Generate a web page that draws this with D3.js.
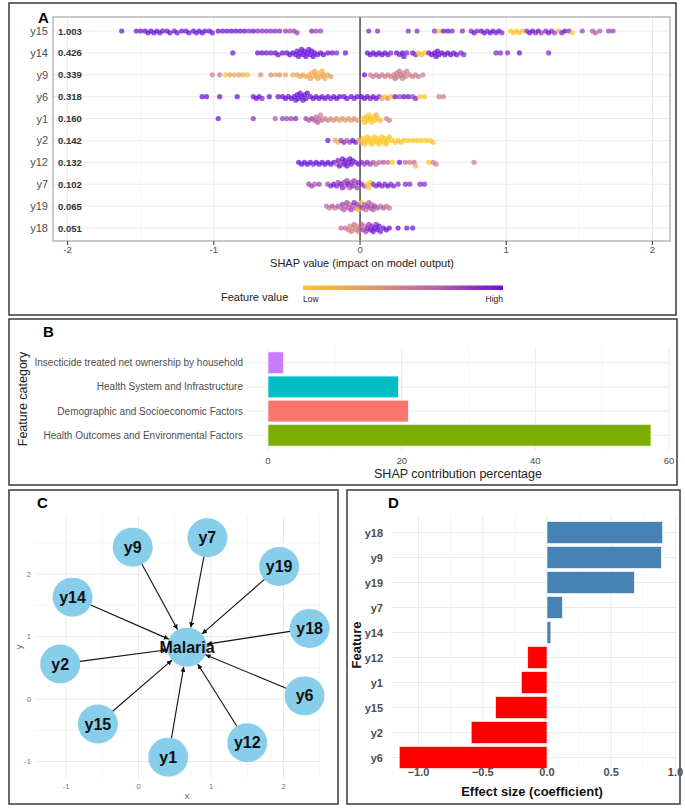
<!DOCTYPE html>
<html>
<head>
<meta charset="utf-8">
<title>SHAP figure</title>
<script src="https://d3js.org/d3.v7.min.js"></script>
<style>
  body { margin: 0; background: #fff; }
  text { font-family: "Liberation Sans", Arial, sans-serif; }
</style>
</head>
<body>
<script>
// ---------- data ----------
// panel A: features, mean |SHAP|, points as [shap, feature value 0..1 (low..high)]
var featA = ["y15", "y14", "y9", "y6", "y1", "y2", "y12", "y7", "y19", "y18"];
var importanceA = ["1.003", "0.426", "0.339", "0.318", "0.160", "0.142", "0.132", "0.102", "0.065", "0.051"];

var ptsY15 = [[-1.63,1],[-1.53,1],[-1.50,1],[-1.47,1],[-1.45,1],[-1.43,1],[-1.41,1],[-1.39,1],[-1.37,1],[-1.35,1],[-1.32,1],[-1.30,1],[-1.27,1],[-1.25,1],[-1.22,1],[-1.19,1],[-1.17,1],[-1.14,1],[-1.12,1],[-1.10,1],[-1.08,1],[-1.06,1],[-1.03,1],[-1.01,1],[-0.97,1],[-0.94,1],[-0.91,1],[-0.88,1],[-0.85,1],[-0.82,1],[-0.79,1],[-0.76,.9],[-0.73,1],[-0.70,.9],[-0.67,.9],[-0.64,.9],[-0.61,.9],[-0.58,.9],[-0.55,.9],[-0.51,.8],[-0.48,.8],[-0.45,.8],[-0.43,.8],[-0.33,.9],[-0.30,.8],[-0.27,.8],
  [0.06,.9],[0.12,.9],[0.33,.9],[0.39,.9],[0.51,.9],[0.54,0],[0.57,1],[0.60,1],[0.63,.9],[0.70,.9],[0.76,.9],[0.78,1],[0.80,.9],[0.83,1],[0.85,1],[0.87,.9],[0.89,1],[0.91,1],[0.93,.9],[0.95,1],[0.97,.9],[1.03,0],[1.05,0],[1.07,0],[1.09,.1],[1.11,0],[1.14,.9],[1.16,1],[1.18,1],[1.20,.9],[1.22,1],[1.24,.8],[1.27,.9],[1.29,1],[1.31,.9],[1.33,.8],[1.36,.2],[1.38,.9],[1.40,1],[1.43,.9],[1.45,0],[1.52,.8],[1.59,.7],[1.61,.7],[1.64,.7],[1.70,.8],[1.73,.8]];
var ptsY14 = [[-0.87,1],[-0.70,1],[-0.67,1],[-0.64,1],[-0.61,1],[-0.58,1],[-0.56,1],[-0.53,1],[-0.50,1],[-0.48,1],[-0.46,1],[-0.44,1],[-0.43,1],[-0.42,1],[-0.41,1],[-0.40,1],[-0.39,1],[-0.38,1],[-0.37,1],[-0.36,1],[-0.35,1],[-0.34,1],[-0.33,1],[-0.32,1],[-0.31,1],[-0.29,1],[-0.27,1],[-0.25,1],[-0.22,1],[-0.19,1],[-0.16,.9],[-0.10,1],
  [0.05,1],[0.07,1],[0.09,1],[0.11,1],[0.13,1],[0.15,1],[0.17,1],[0.19,1],[0.21,.9],[0.25,1],[0.27,.9],[0.29,1],[0.30,1],[0.32,.9],[0.36,1],[0.38,.9],[0.40,0],[0.42,.1],[0.44,0],[0.47,1],[0.49,1],[0.51,1],[0.52,1],[0.53,1],[0.54,1],[0.56,1],[0.58,1],[0.60,1],[0.62,1],[0.64,.9],[0.66,1],[0.69,.9],[0.71,.9],[0.93,.9],[0.96,.9],[1.01,.9],[1.09,1],[1.29,.9]];
var ptsY9 = [[-1.01,.5],[-0.96,.5],[-0.92,0],[-0.89,.3],[-0.86,.2],[-0.83,.3],[-0.80,.2],[-0.77,.1],[-0.68,.4],[-0.61,.4],[-0.58,.3],[-0.55,.4],[-0.51,.3],[-0.46,.2],[-0.43,.3],[-0.41,.2],[-0.39,.3],[-0.37,.2],[-0.35,.2],[-0.34,.3],[-0.33,.2],[-0.32,.1],[-0.31,.2],[-0.30,.3],[-0.29,.2],[-0.28,0],[-0.27,.2],[-0.26,.1],[-0.25,.3],[-0.24,.2],[-0.22,.2],[-0.20,.3],
  [0.03,1],[0.07,.5],[0.09,.5],[0.11,.5],[0.13,.6],[0.15,.5],[0.17,.5],[0.19,.5],[0.21,.5],[0.23,.5],[0.24,.6],[0.25,.5],[0.26,.5],[0.27,.5],[0.28,.6],[0.29,.5],[0.30,.5],[0.31,.5],[0.32,.5],[0.34,.5],[0.36,.5],[0.38,.5],[0.40,.5],[0.43,.5]];
var ptsY6 = [[-1.08,1],[-1.05,1],[-0.96,1],[-0.84,1],[-0.73,1],[-0.71,1],[-0.69,1],[-0.67,.9],[-0.62,1],[-0.56,1],[-0.53,1],[-0.51,1],[-0.49,1],[-0.47,1],[-0.45,1],[-0.44,1],[-0.43,1],[-0.42,1],[-0.41,1],[-0.40,1],[-0.39,1],[-0.38,1],[-0.37,1],[-0.36,1],[-0.34,1],[-0.32,1],[-0.30,1],[-0.28,1],[-0.26,1],[-0.24,1],[-0.22,1],[-0.20,.9],[-0.18,1],[-0.16,1],[-0.14,1],[-0.11,1],[-0.09,1],[-0.06,1],[-0.04,.9],[-0.02,1],
  [0.01,1],[0.03,1],[0.05,1],[0.07,.9],[0.09,1],[0.11,1],[0.13,.9],[0.15,.3],[0.17,0],[0.19,.4],[0.21,.1],[0.24,1],[0.27,.8],[0.30,1],[0.33,1],[0.36,.8],[0.38,.9],[0.41,0],[0.44,0],[0.54,.5],[0.57,.5]];
var ptsY1 = [[-0.97,1],[-0.73,.9],[-0.58,.7],[-0.53,.8],[-0.50,.8],[-0.47,.8],[-0.44,.9],[-0.37,.8],[-0.35,.7],[-0.33,.8],[-0.31,.7],[-0.30,.6],[-0.29,.7],[-0.28,.6],[-0.27,.5],[-0.26,.6],[-0.24,.5],[-0.22,.5],[-0.20,.4],[-0.18,.4],[-0.16,.4],[-0.14,.3],[-0.12,.4],[-0.10,.3],[-0.08,.3],[-0.06,.3],[-0.04,.4],[-0.02,.3],
  [0.02,0],[0.03,.1],[0.04,0],[0.05,0],[0.06,0],[0.07,.1],[0.08,0],[0.09,0],[0.10,0],[0.11,.2],[0.12,0],[0.14,.1],[0.18,.4],[0.20,.5]];
var ptsY2 = [[-0.22,1],[-0.17,.3],[-0.15,.1],[-0.13,.8],[-0.11,.9],[-0.09,.7],[-0.07,.8],[-0.05,1],[-0.03,1],[-0.01,.3],
  [0.01,.2],[0.02,0],[0.03,.1],[0.04,0],[0.05,0],[0.06,0],[0.07,0],[0.08,0],[0.09,0],[0.10,0],[0.11,0],[0.12,0],[0.13,0],[0.14,0],[0.15,0],[0.16,0],[0.17,0],[0.18,0],[0.19,0],[0.20,0],[0.22,0],[0.24,0],[0.26,0],[0.28,0],[0.30,0],[0.33,0],[0.36,0],[0.39,0],[0.42,0],[0.45,0],[0.48,0],[0.50,0]];
var ptsY12 = [[-0.42,1],[-0.40,1],[-0.38,1],[-0.36,1],[-0.34,1],[-0.32,.9],[-0.30,1],[-0.28,1],[-0.26,1],[-0.24,1],[-0.22,1],[-0.20,1],[-0.18,1],[-0.16,.6],[-0.15,1],[-0.14,1],[-0.13,.7],[-0.12,1],[-0.11,1],[-0.10,1],[-0.09,1],[-0.08,.9],[-0.07,1],[-0.06,1],[-0.05,1],[-0.03,.9],[-0.01,1],
  [0.01,.9],[0.03,.8],[0.05,.9],[0.07,.8],[0.09,.7],[0.11,.6],[0.13,.6],[0.16,.7],[0.19,.6],[0.22,0],[0.27,1],[0.31,.6],[0.34,.5],[0.37,.6],[0.38,.1],[0.47,0],[0.50,.5],[0.52,.5],[0.78,.5]];
var ptsY7 = [[-0.35,.8],[-0.33,.8],[-0.31,.7],[-0.28,.8],[-0.22,.8],[-0.20,.9],[-0.18,1],[-0.16,.9],[-0.15,.8],[-0.13,1],[-0.12,.9],[-0.11,.8],[-0.10,.7],[-0.09,.8],[-0.08,1],[-0.07,.7],[-0.06,.8],[-0.05,.9],[-0.04,.8],[-0.03,.7],[-0.02,.8],[-0.01,.9],
  [0.01,.9],[0.03,.8],[0.05,0],[0.06,.1],[0.07,0],[0.09,.9],[0.11,.9],[0.13,1],[0.15,.9],[0.17,.9],[0.19,1],[0.21,.9],[0.23,.9],[0.26,.9],[0.31,.9],[0.34,.9],[0.41,.9],[0.44,.9]];
var ptsY19 = [[-0.23,.6],[-0.21,.6],[-0.19,.7],[-0.17,.6],[-0.15,.7],[-0.13,.6],[-0.12,.8],[-0.11,.7],[-0.10,.6],[-0.09,.8],[-0.08,.7],[-0.07,.6],[-0.06,.8],[-0.05,.7],[-0.04,.9],[-0.03,.6],[-0.02,.8],[-0.01,.1],
  [0.00,.7],[0.01,0],[0.02,.8],[0.03,.7],[0.04,.6],[0.05,.8],[0.06,.7],[0.07,.8],[0.08,.6],[0.09,.7],[0.10,.8],[0.12,.7],[0.14,.6],[0.16,.7],[0.18,.6],[0.20,.6]];
var ptsY18 = [[-0.13,.6],[-0.10,.6],[-0.08,.5],[-0.07,.4],[-0.06,.5],[-0.05,.4],[-0.04,.6],[-0.03,.5],[-0.02,.4],[-0.01,.5],
  [0.00,.6],[0.01,.7],[0.02,.8],[0.03,.5],[0.04,.8],[0.05,.9],[0.06,.8],[0.07,1],[0.08,.9],[0.09,1],[0.10,1],[0.11,.9],[0.12,1],[0.13,1],[0.14,.9],[0.16,1],[0.18,1],[0.20,1],[0.26,1],[0.32,1],[0.36,1]];
var pointsA = [ptsY15, ptsY14, ptsY9, ptsY6, ptsY1, ptsY2, ptsY12, ptsY7, ptsY19, ptsY18];
var ticksA = [-2, -1, 0, 1, 2];

// panel B
var catB = ["Insecticide treated net ownership by household", "Health System and Infrastructure",
            "Demographic and Socioeconomic Factors", "Health Outcomes and Environmental Factors"];
var valB = [2.3, 19.5, 21.0, 57.3];
var colB = ["#C77CFF", "#00BFC4", "#F8766D", "#7CAE00"];
var ticksB = [0, 20, 40, 60];

// panel C: node positions in layout units
var nodeC = ["y9", "y7", "y19", "y14", "y18", "y2", "y6", "y15", "y1", "y12"];
var nodeX = [-0.08, 0.95, 1.94, -0.91, 2.36, -1.08, 2.29, -0.56, 0.41, 1.50];
var nodeY = [2.43, 2.58, 2.12, 1.63, 1.13, 0.56, 0.05, -0.40, -0.93, -0.70];
var targetC = {name: "Malaria", x: 0.67, y: 0.83};
var ticksCx = [-1, 0, 1, 2];
var ticksCy = [-1, 0, 1, 2];

// panel D
var featD = ["y18", "y9", "y19", "y7", "y14", "y12", "y1", "y15", "y2", "y6"];
var coefD = [0.90, 0.89, 0.68, 0.12, 0.03, -0.15, -0.20, -0.40, -0.59, -1.15];
var ticksD = [-1.0, -0.5, 0.0, 0.5, 1.0];

// ---------- drawing ----------
var svg = d3.select("body").append("svg").attr("width", 685).attr("height", 810);
var gridCol = "#ebebeb", axisCol = "#4d4d4d";

// panel frames
var frames = [[9, 3, 667, 312], [9, 319, 668, 166], [9, 490, 329, 314], [347, 490, 333, 314]];
svg.selectAll("rect.frame").data(frames).enter().append("rect")
  .attr("class", "frame")
  .attr("x", function(d){ return d[0]; }).attr("y", function(d){ return d[1]; })
  .attr("width", function(d){ return d[2]; }).attr("height", function(d){ return d[3]; })
  .attr("fill", "none").attr("stroke", "#3a3a3a").attr("stroke-width", 1.5);

function panelLetter(t, x, y) {
  svg.append("text").attr("x", x).attr("y", y).text(t)
    .attr("font-size", 15).attr("font-weight", "bold").attr("fill", "#000");
}

// ===== Panel A =====
var gA = svg.append("g");
var xA = d3.scaleLinear().domain([-2.1, 2.12]).range([53, 670]);
var yA = d3.scalePoint().domain(featA).range([31, 228]);
var colorA = d3.scaleLinear().domain([0, 0.33, 0.66, 1])
  .range(["#FFC61E", "#E39A6C", "#BC62A5", "#6A0FD8"]);

// grid
gA.selectAll("line.minor").data([-1.5, -0.5, 0.5, 1.5]).enter().append("line")
  .attr("x1", xA).attr("x2", xA).attr("y1", 17).attr("y2", 241)
  .attr("stroke", "#f3f3f3").attr("stroke-width", 0.8);
gA.selectAll("line.major").data(ticksA).enter().append("line")
  .attr("x1", xA).attr("x2", xA).attr("y1", 17).attr("y2", 241)
  .attr("stroke", gridCol).attr("stroke-width", 1);
gA.selectAll("line.row").data(featA).enter().append("line")
  .attr("x1", 53).attr("x2", 670).attr("y1", yA).attr("y2", yA)
  .attr("stroke", gridCol).attr("stroke-width", 1);
gA.append("line").attr("x1", xA(0)).attr("x2", xA(0)).attr("y1", 17).attr("y2", 241)
  .attr("stroke", "#222").attr("stroke-width", 1.2);

// simple beeswarm offsets
function swarm(pts, cy) {
  var placed = [];
  var out = pts.map(function(p){ return {x: xA(p[0]), v: p[1]}; })
    .sort(function(a, b){ return a.x - b.x; });
  var dmin = 3.2, step = 0.9, maxOff = 7;
  out.forEach(function(p) {
    var cands = [0];
    for (var k = 1; k * step <= maxOff; k++) { cands.push(k * step, -k * step); }
    var best = 0, bestD = -1;
    for (var i = 0; i < cands.length; i++) {
      var md = Infinity;
      placed.forEach(function(q) {
        if (Math.abs(q.x - p.x) < dmin) {
          var dd = Math.hypot(q.x - p.x, q.off - cands[i]);
          if (dd < md) md = dd;
        }
      });
      if (md >= dmin) { best = cands[i]; bestD = md; break; }
      if (md > bestD) { bestD = md; best = cands[i]; }
    }
    p.off = best;
    placed.push(p);
  });
  out.forEach(function(p){ p.y = cy + p.off; });
  return out;
}

featA.forEach(function(f, i) {
  var sw = swarm(pointsA[i], yA(f));
  gA.append("g").selectAll("circle").data(sw).enter().append("circle")
    .attr("cx", function(d){ return d.x; }).attr("cy", function(d){ return d.y; })
    .attr("r", 2.6).attr("fill", function(d){ return colorA(d.v); })
    .attr("fill-opacity", 0.72);
});

gA.append("rect").attr("x", 53).attr("y", 17).attr("width", 617).attr("height", 224)
  .attr("fill", "none").attr("stroke", "#a6a6a6").attr("stroke-width", 1.2);

// axes text
gA.selectAll("text.rowlab").data(featA).enter().append("text")
  .attr("x", 48).attr("y", function(d){ return yA(d) + 4; }).attr("text-anchor", "end")
  .attr("font-size", 11).attr("fill", axisCol).text(function(d){ return d; });
gA.selectAll("text.imp").data(importanceA).enter().append("text")
  .attr("x", 58).attr("y", function(d, i){ return yA(featA[i]) + 3.5; })
  .attr("font-size", 9.5).attr("font-weight", "bold").attr("fill", "#333").text(function(d){ return d; });
gA.selectAll("line.tick").data(ticksA).enter().append("line")
  .attr("x1", xA).attr("x2", xA).attr("y1", 241).attr("y2", 245)
  .attr("stroke", "#333").attr("stroke-width", 1);
gA.selectAll("text.tick").data(ticksA).enter().append("text")
  .attr("x", xA).attr("y", 253).attr("text-anchor", "middle")
  .attr("font-size", 9.5).attr("fill", axisCol).text(function(d){ return d; });
gA.append("text").attr("x", 362).attr("y", 267).attr("text-anchor", "middle")
  .attr("font-size", 11).attr("fill", "#222").text("SHAP value (impact on model output)");

// legend
var defs = svg.append("defs");
var grad = defs.append("linearGradient").attr("id", "fvgrad");
[0, 0.33, 0.66, 1].forEach(function(s){
  grad.append("stop").attr("offset", s).attr("stop-color", colorA(s));
});
gA.append("rect").attr("x", 303).attr("y", 285.5).attr("width", 200).attr("height", 4.5)
  .attr("fill", "url(#fvgrad)");
gA.append("text").attr("x", 221).attr("y", 301).attr("font-size", 11).attr("fill", "#222").text("Feature value");
gA.append("text").attr("x", 303).attr("y", 302).attr("font-size", 8.5).attr("fill", "#222").text("Low");
gA.append("text").attr("x", 503).attr("y", 302).attr("text-anchor", "end").attr("font-size", 8.5).attr("fill", "#222").text("High");
panelLetter("A", 38, 22.5);

// ===== Panel B =====
var gB = svg.append("g");
var xB = d3.scaleLinear().domain([0, 60]).range([268, 669]);
var yB = d3.scaleBand().domain(catB).range([349.5, 448.5]).padding(0.1);
gB.selectAll("line.minor").data([10, 30, 50]).enter().append("line")
  .attr("x1", xB).attr("x2", xB).attr("y1", 347).attr("y2", 450)
  .attr("stroke", "#f3f3f3").attr("stroke-width", 0.8);
gB.selectAll("line.major").data(ticksB).enter().append("line")
  .attr("x1", xB).attr("x2", xB).attr("y1", 347).attr("y2", 450)
  .attr("stroke", gridCol).attr("stroke-width", 1);
gB.selectAll("line.row").data(catB).enter().append("line")
  .attr("x1", 248).attr("x2", 670)
  .attr("y1", function(d){ return yB(d) + yB.bandwidth() / 2; })
  .attr("y2", function(d){ return yB(d) + yB.bandwidth() / 2; })
  .attr("stroke", gridCol).attr("stroke-width", 1);
gB.selectAll("rect.bar").data(valB).enter().append("rect")
  .attr("x", xB(0)).attr("y", function(d, i){ return yB(catB[i]); })
  .attr("width", function(d){ return xB(d) - xB(0); }).attr("height", yB.bandwidth())
  .attr("fill", function(d, i){ return colB[i]; })
  .attr("stroke", "#fff").attr("stroke-width", 0.6);
gB.selectAll("text.cat").data(catB).enter().append("text")
  .attr("x", 243).attr("y", function(d){ return yB(d) + yB.bandwidth() / 2 + 3.5; })
  .attr("text-anchor", "end").attr("font-size", 10).attr("fill", axisCol).text(function(d){ return d; });
gB.selectAll("text.tick").data(ticksB).enter().append("text")
  .attr("x", xB).attr("y", 463.5).attr("text-anchor", "middle")
  .attr("font-size", 9.5).attr("fill", axisCol).text(function(d){ return d; });
gB.append("text").attr("x", 458).attr("y", 478).attr("text-anchor", "middle")
  .attr("font-size", 12.5).attr("fill", "#222").text("SHAP contribution percentage");
gB.append("text").attr("transform", "translate(26.5,399) rotate(-90)").attr("text-anchor", "middle")
  .attr("font-size", 12.5).attr("fill", "#222").text("Feature category");
panelLetter("B", 43, 337);

// ===== Panel C =====
var gC = svg.append("g");
var xC = d3.scaleLinear().domain([0, 1]).range([138.5, 211]);
var yC = d3.scaleLinear().domain([0, 1]).range([699, 636.5]);
var cL = 35, cR = 320, cT = 515, cB = 778;
gC.selectAll("line.vminor").data([-0.5, 0.5, 1.5, 2.5]).enter().append("line")
  .attr("x1", xC).attr("x2", xC).attr("y1", cT).attr("y2", cB)
  .attr("stroke", "#f3f3f3").attr("stroke-width", 0.8);
gC.selectAll("line.hminor").data([-0.5, 0.5, 1.5, 2.5]).enter().append("line")
  .attr("y1", yC).attr("y2", yC).attr("x1", cL).attr("x2", cR)
  .attr("stroke", "#f3f3f3").attr("stroke-width", 0.8);
gC.selectAll("line.vmajor").data(ticksCx).enter().append("line")
  .attr("x1", xC).attr("x2", xC).attr("y1", cT).attr("y2", cB)
  .attr("stroke", gridCol).attr("stroke-width", 1);
gC.selectAll("line.hmajor").data(ticksCy).enter().append("line")
  .attr("y1", yC).attr("y2", yC).attr("x1", cL).attr("x2", cR)
  .attr("stroke", gridCol).attr("stroke-width", 1);
gC.selectAll("text.xt").data(ticksCx).enter().append("text")
  .attr("x", xC).attr("y", 789).attr("text-anchor", "middle")
  .attr("font-size", 7.5).attr("fill", "#777").text(function(d){ return d; });
gC.selectAll("text.yt").data(ticksCy).enter().append("text")
  .attr("x", 31).attr("y", function(d){ return yC(d) + 2.5; }).attr("text-anchor", "end")
  .attr("font-size", 7.5).attr("fill", "#777").text(function(d){ return d; });
gC.append("text").attr("x", 187).attr("y", 799).attr("text-anchor", "middle")
  .attr("font-size", 9).attr("fill", "#666").text("x");
gC.append("text").attr("transform", "translate(22,647) rotate(-90)").attr("text-anchor", "middle")
  .attr("font-size", 9).attr("fill", "#666").text("y");

defs.append("marker").attr("id", "arr").attr("viewBox", "0 0 10 10")
  .attr("refX", 10).attr("refY", 5).attr("markerWidth", 5).attr("markerHeight", 5)
  .attr("orient", "auto").attr("markerUnits", "userSpaceOnUse")
  .append("path").attr("d", "M0,0 L10,5 L0,10 z").attr("fill", "#111");

var tx = xC(targetC.x), ty = yC(targetC.y);
var rNode = 19.5;
gC.append("ellipse").attr("cx", tx).attr("cy", ty).attr("rx", rNode + 0.5).attr("ry", rNode)
  .attr("fill", "#87CEEB");
gC.selectAll("line.edge").data(nodeC).enter().append("line")
  .attr("x1", function(d, i){ var sx = xC(nodeX[i]), sy = yC(nodeY[i]); var L = Math.hypot(tx - sx, ty - sy); return sx + (tx - sx) / L * 18; })
  .attr("y1", function(d, i){ var sx = xC(nodeX[i]), sy = yC(nodeY[i]); var L = Math.hypot(tx - sx, ty - sy); return sy + (ty - sy) / L * 18; })
  .attr("x2", function(d, i){ var sx = xC(nodeX[i]), sy = yC(nodeY[i]); var L = Math.hypot(tx - sx, ty - sy); return tx - (tx - sx) / L * 20; })
  .attr("y2", function(d, i){ var sx = xC(nodeX[i]), sy = yC(nodeY[i]); var L = Math.hypot(tx - sx, ty - sy); return ty - (ty - sy) / L * 20; })
  .attr("stroke", "#111").attr("stroke-width", 1.1).attr("marker-end", "url(#arr)");
gC.selectAll("ellipse.node").data(nodeC).enter().append("ellipse")
  .attr("cx", function(d, i){ return xC(nodeX[i]); }).attr("cy", function(d, i){ return yC(nodeY[i]); })
  .attr("rx", rNode + 0.5).attr("ry", rNode).attr("fill", "#87CEEB");
gC.selectAll("text.node").data(nodeC).enter().append("text")
  .attr("x", function(d, i){ return xC(nodeX[i]); }).attr("y", function(d, i){ return yC(nodeY[i]) + 5.5; })
  .attr("text-anchor", "middle").attr("font-size", 16).attr("font-weight", "bold").attr("fill", "#111")
  .text(function(d){ return d; });
gC.append("text").attr("x", tx).attr("y", ty + 5.5).attr("text-anchor", "middle")
  .attr("font-size", 16).attr("font-weight", "bold").attr("fill", "#111").text(targetC.name);
panelLetter("C", 37, 508);

// ===== Panel D =====
var gD = svg.append("g");
var xD = d3.scaleLinear().domain([0, 1]).range([547, 675.5]);
var yD = d3.scaleBand().domain(featD).range([518.5, 771.5]).padding(0.12);
var dL = 392, dR = 677, dT = 515, dB = 768;
gD.selectAll("line.minor").data([-0.75, -0.25, 0.25, 0.75]).enter().append("line")
  .attr("x1", xD).attr("x2", xD).attr("y1", dT).attr("y2", dB)
  .attr("stroke", "#f3f3f3").attr("stroke-width", 0.8);
gD.selectAll("line.major").data(ticksD).enter().append("line")
  .attr("x1", xD).attr("x2", xD).attr("y1", dT).attr("y2", dB)
  .attr("stroke", gridCol).attr("stroke-width", 1);
gD.selectAll("line.row").data(featD).enter().append("line")
  .attr("x1", dL).attr("x2", dR)
  .attr("y1", function(d){ return yD(d) + yD.bandwidth() / 2; })
  .attr("y2", function(d){ return yD(d) + yD.bandwidth() / 2; })
  .attr("stroke", gridCol).attr("stroke-width", 1);
gD.selectAll("rect.bar").data(coefD).enter().append("rect")
  .attr("x", function(d){ return xD(Math.min(0, d)); })
  .attr("y", function(d, i){ return yD(featD[i]); })
  .attr("width", function(d){ return Math.abs(xD(d) - xD(0)); })
  .attr("height", yD.bandwidth())
  .attr("fill", function(d){ return d > 0 ? "#4682B4" : "#FF0000"; })
  .attr("stroke", "#fff").attr("stroke-width", 0.6);
gD.selectAll("text.lab").data(featD).enter().append("text")
  .attr("x", 383).attr("y", function(d){ return yD(d) + yD.bandwidth() / 2 + 4; })
  .attr("text-anchor", "end").attr("font-size", 11).attr("font-weight", "bold").attr("fill", axisCol)
  .text(function(d){ return d; });
gD.selectAll("text.tick").data(ticksD).enter().append("text")
  .attr("x", xD).attr("y", 776).attr("text-anchor", "middle")
  .attr("font-size", 11).attr("font-weight", "bold").attr("fill", axisCol)
  .text(function(d){ return d3.format(".1f")(d); });
gD.append("text").attr("x", 532).attr("y", 796).attr("text-anchor", "middle")
  .attr("font-size", 13).attr("font-weight", "bold").attr("fill", "#111").text("Effect size (coefficient)");
gD.append("text").attr("transform", "translate(361,645) rotate(-90)").attr("text-anchor", "middle")
  .attr("font-size", 13).attr("font-weight", "bold").attr("fill", "#111").text("Feature");
panelLetter("D", 388, 508);
</script>
</body>
</html>
